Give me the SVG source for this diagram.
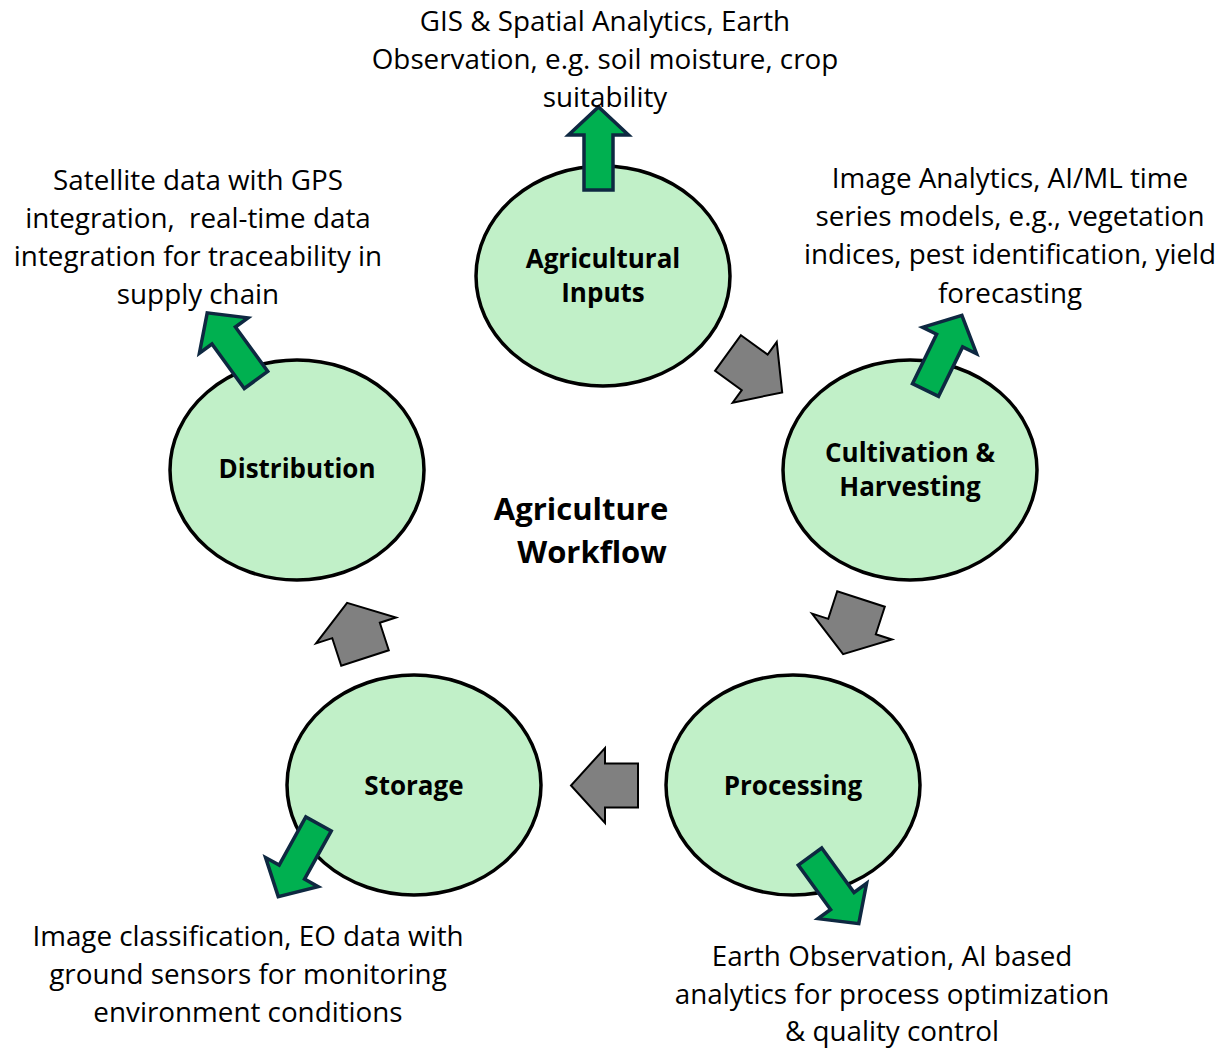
<svg xmlns="http://www.w3.org/2000/svg" width="1223" height="1049" viewBox="0 0 1223 1049">
<defs>
<style>
.node ellipse{fill:#C1F0C8;stroke:#000;stroke-width:3.5}
.nl{font-family:"Open Sans","Noto Sans",sans-serif;font-weight:bold;font-size:26px;fill:#000;text-anchor:middle}
.lab{font-family:"Open Sans","Noto Sans",sans-serif;font-size:27.8px;fill:#000;text-anchor:middle}
.title{font-family:"Open Sans","Noto Sans",sans-serif;font-weight:bold;font-size:31px;fill:#000;text-anchor:middle}
.ga{fill:#00B050;stroke:#0E2841;stroke-width:3.5;stroke-linejoin:miter}
.gr{fill:#808080;stroke:#000;stroke-width:2;stroke-linejoin:miter}
</style>
<polygon id="garrow" points="0,-14.5 55,-14.5 55,-30 83,0 55,30 55,14.5 0,14.5"/>
<polygon id="grA" points="0,-22 33,-22 33,-37.5 67,0 33,37.5 33,22 0,22"/>
<polygon id="grB" points="0,-25 29,-25 29,-42 58,0 29,42 29,25 0,25"/>
</defs>
<rect width="1223" height="1049" fill="#fff"/>

<g id="node-inputs" class="node">
<ellipse cx="603" cy="276" rx="127" ry="110"/>
<text class="nl" x="603" y="268">Agricultural</text>
<text class="nl" x="603" y="302">Inputs</text>
</g>
<g id="node-cultivation" class="node">
<ellipse cx="910" cy="470" rx="127" ry="110"/>
<text class="nl" x="910" y="462">Cultivation &amp;</text>
<text class="nl" x="910" y="496">Harvesting</text>
</g>
<g id="node-processing" class="node">
<ellipse cx="793" cy="785" rx="127" ry="110"/>
<text class="nl" x="793" y="795">Processing</text>
</g>
<g id="node-storage" class="node">
<ellipse cx="414" cy="785" rx="127" ry="110"/>
<text class="nl" x="414" y="795">Storage</text>
</g>
<g id="node-distribution" class="node">
<ellipse cx="297" cy="470" rx="127" ry="110"/>
<text class="nl" x="297" y="478">Distribution</text>
</g>

<g id="connectors">
<use href="#grA" class="gr" transform="translate(728,353) rotate(36)"/>
<use href="#grB" class="gr" transform="translate(861,599) rotate(108)"/>
<use href="#grA" class="gr" transform="translate(638,785.5) rotate(180)"/>
<use href="#grB" class="gr" transform="translate(365,658) rotate(-108)"/>
</g>

<g id="tool-arrows">
<use href="#garrow" class="ga" transform="translate(598.5,190) rotate(-90)"/>
<use href="#garrow" class="ga" transform="translate(925.5,390) rotate(-64)"/>
<use href="#garrow" class="ga" transform="translate(810,856.5) rotate(54)"/>
<use href="#garrow" class="ga" transform="translate(318.5,824) rotate(119)"/>
<use href="#garrow" class="ga" transform="translate(256,380) rotate(-126)"/>
</g>

<g id="title">
<text class="title" x="581" y="520">Agriculture</text>
<text class="title" x="592" y="563">Workflow</text>
</g>

<g id="labels">
<text class="lab" x="605" y="31">GIS &amp; Spatial Analytics, Earth</text>
<text class="lab" x="605" y="69">Observation, e.g. soil moisture, crop</text>
<text class="lab" x="605" y="107">suitability</text>

<text class="lab" x="198" y="190">Satellite data with GPS</text>
<text class="lab" x="198" y="228" xml:space="preserve">integration,  real-time data</text>
<text class="lab" x="198" y="266">integration for traceability in</text>
<text class="lab" x="198" y="304">supply chain</text>

<text class="lab" x="1010" y="188">Image Analytics, AI/ML time</text>
<text class="lab" x="1010" y="226">series models, e.g., vegetation</text>
<text class="lab" x="1010" y="264">indices, pest identification, yield</text>
<text class="lab" x="1010" y="303">forecasting</text>

<text class="lab" x="892" y="966">Earth Observation, AI based</text>
<text class="lab" x="892" y="1004">analytics for process optimization</text>
<text class="lab" x="892" y="1041">&amp; quality control</text>

<text class="lab" x="248" y="946">Image classification, EO data with</text>
<text class="lab" x="248" y="984">ground sensors for monitoring</text>
<text class="lab" x="248" y="1022">environment conditions</text>
</g>
</svg>
